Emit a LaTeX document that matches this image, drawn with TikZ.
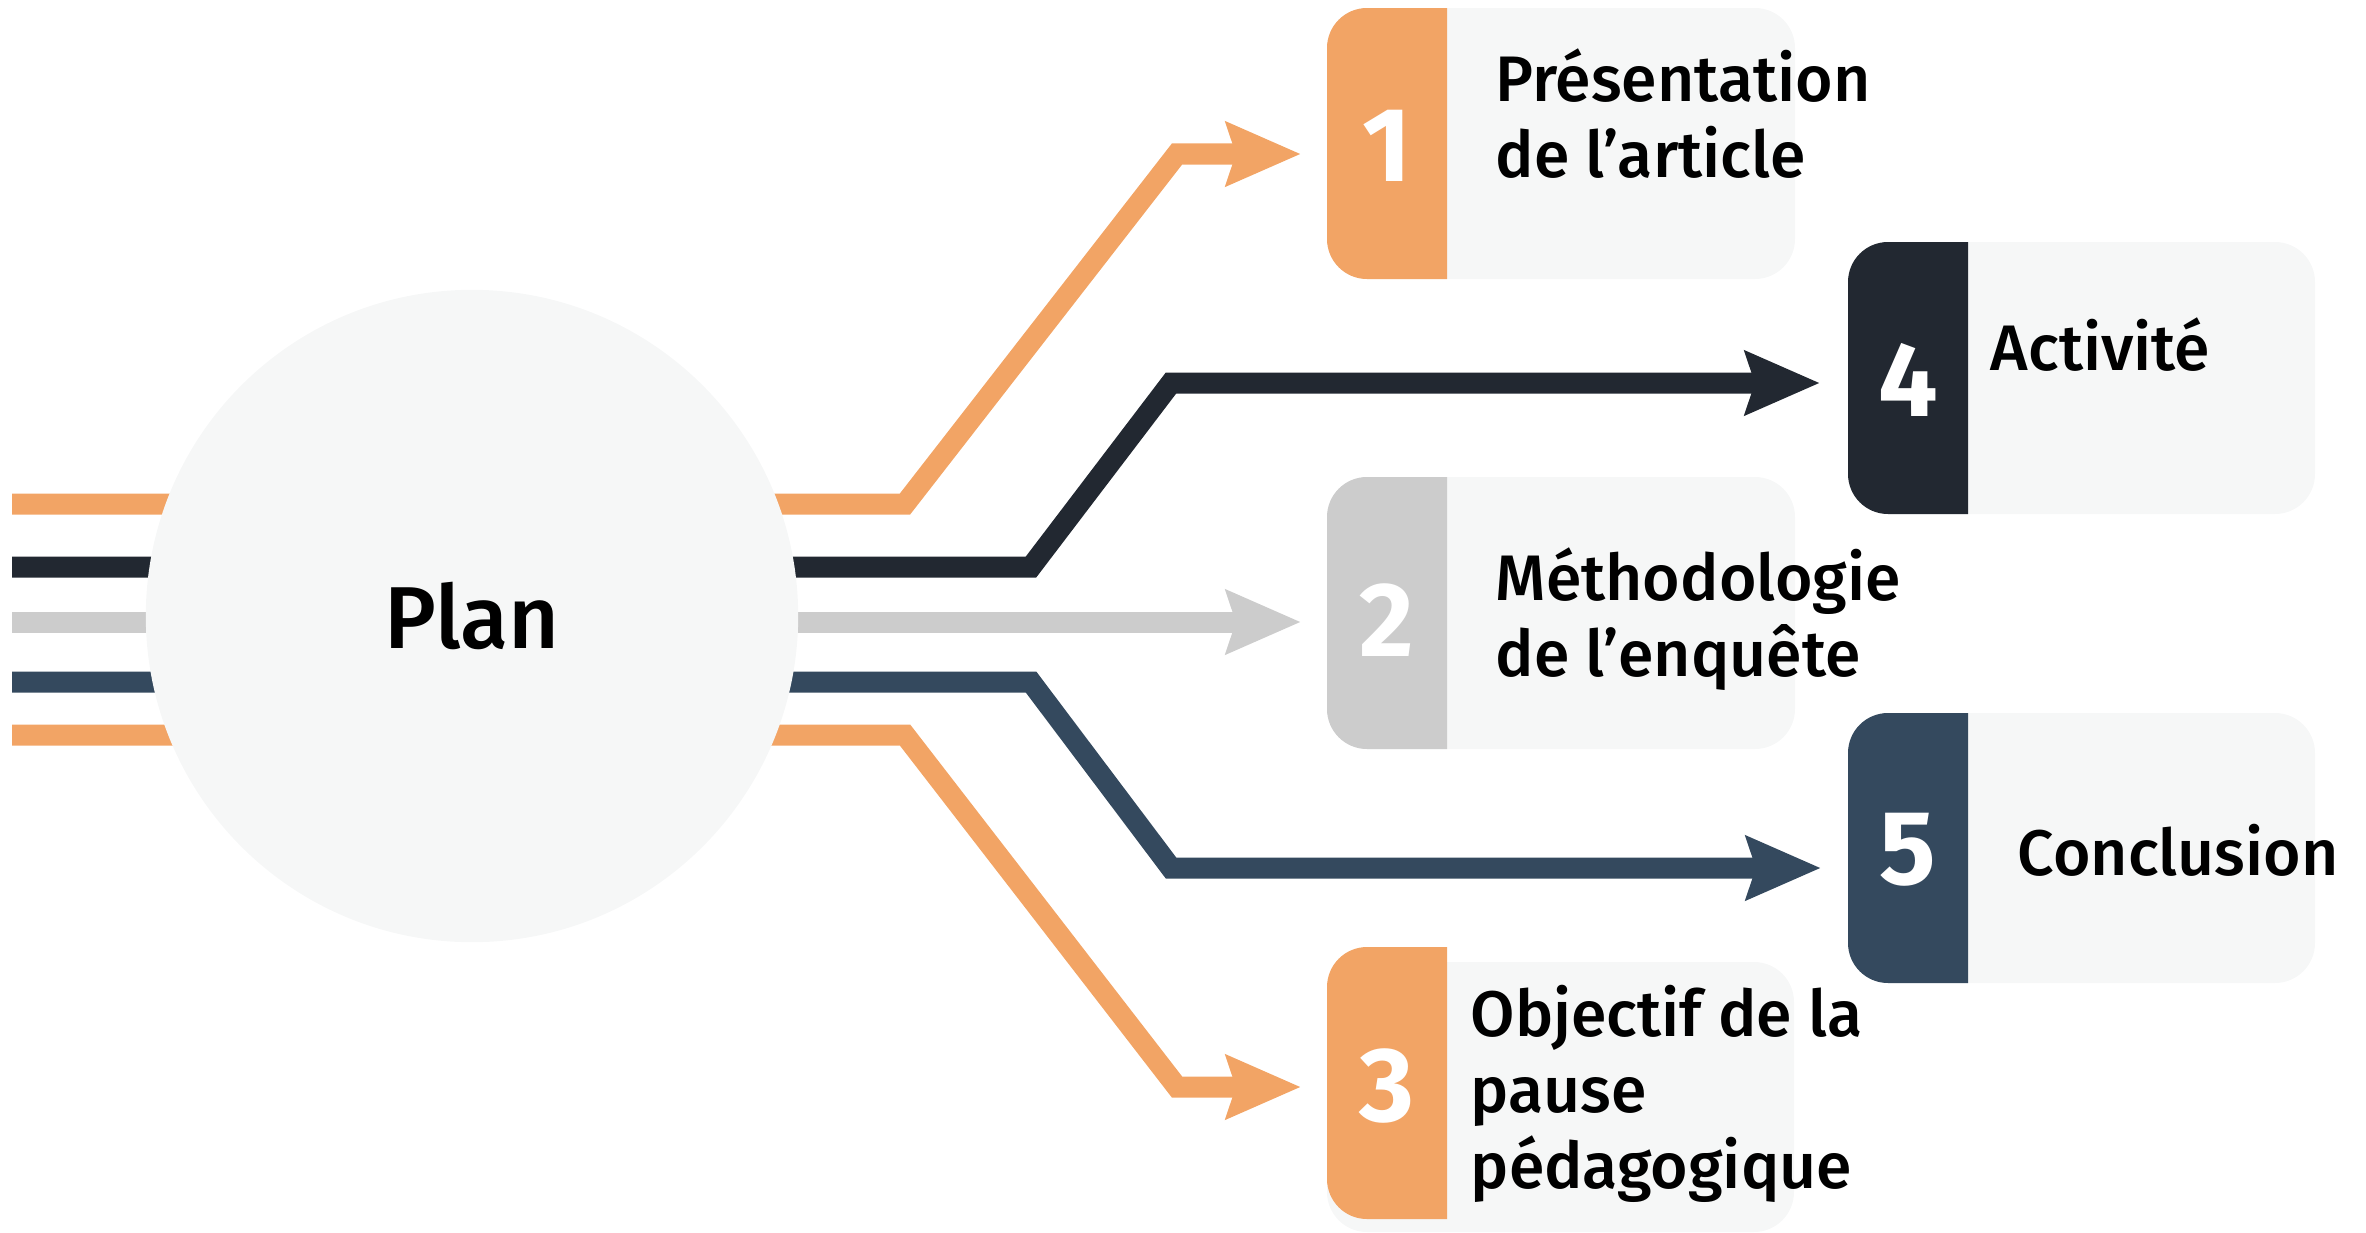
\documentclass[tikz,border=0pt]{standalone}
\usepackage{fontspec}
\setmainfont{Fira Sans}[UprightFont=* Medium, BoldFont=* Bold]
\usetikzlibrary{arrows.meta}
\definecolor{peche}{HTML}{F2A465}
\definecolor{ardoise}{HTML}{222831}
\definecolor{gris}{HTML}{CCCCCC}
\definecolor{marine}{HTML}{34495E}
\definecolor{fond}{HTML}{F6F7F7}

\begin{document}
\begin{tikzpicture}[
    x=0.01cm, y=-0.01cm,
    fleche/.style={line width=0.21cm,
                   -{Stealth[length=0.74cm, width=0.62cm, inset=0.09cm]}},
    carte/.style={fill=fond, rounded corners=0.4cm},
    onglet/.style={fill=#1, rounded corners=0.4cm},
    chiffre/.style={inner sep=0, text=white,
                    font=\fontsize{30}{30}\bfseries\selectfont},
    titre/.style={inner sep=0, anchor=base west, align=left,
                  font=\fontsize{18.3}{21.6}\selectfont}
  ]
  \useasboundingbox (0,0) rectangle (2366,1233);

  % points de depart et d'arrivee des fleches
  \foreach \n/\y in {o1/504, d/567, g/622, b/682, o2/735}
    \coordinate (s-\n) at (12,\y);
  \coordinate (fin1) at (1301,154);
  \coordinate (fin2) at (1301,622);
  \coordinate (fin3) at (1301,1087);
  \coordinate (fin4) at (1820,383);
  \coordinate (fin5) at (1821,868);

  \draw[fleche, peche]   (s-o1) -- (905,504) -- (1177,154) -- (fin1);
  \draw[fleche, ardoise] (s-d) -- (1031,567) -- (1171,383) -- (fin4);
  \draw[fleche, gris]    (s-g) -- (fin2);
  \draw[fleche, marine]  (s-b) -- (1031,682) -- (1171,868) -- (fin5);
  \draw[fleche, peche]   (s-o2) -- (905,735) -- (1177,1087) -- (fin3);

  \node[circle, fill=fond, minimum size=6.52cm, inner sep=0,
        font=\fontsize{25}{25}\selectfont] (plan) at (472,616) {Plan};

  % cartes (le texte est cale sur sa derniere ligne)
  \fill[carte] (1327,8) rectangle (1795,279);
  \fill[onglet=peche] (1447,8) -- (1327,8) -- (1327,279) -- (1447,279);
  \node[chiffre] (n1) at (1387,146) {1};
  \node[titre] (t1) at (1495,177) {Présentation\\de l’article};

  \fill[carte] (1848,242) rectangle (2315,514);
  \fill[onglet=ardoise] (1968,242) -- (1848,242) -- (1848,514) -- (1968,514);
  \node[chiffre] (n4) at (1908,380) {4};
  \node[titre] (t4) at (1990,370) {Activité};

  \fill[carte] (1327,477) rectangle (1795,749);
  \fill[onglet=gris] (1447,477) -- (1327,477) -- (1327,749) -- (1447,749);
  \node[chiffre] (n2) at (1387,620) {2};
  \node[titre] (t2) at (1495,676) {Méthodologie\\de l’enquête};

  \fill[carte] (1848,713) rectangle (2315,983);
  \fill[onglet=marine] (1968,713) -- (1848,713) -- (1848,983) -- (1968,983);
  \node[chiffre] (n5) at (1908,850) {5};
  \node[titre] (t5) at (2017,875) {Conclusion};

  \fill[carte] (1327,962) rectangle (1794,1232);
  \fill[onglet=peche] (1447,947) -- (1327,947) -- (1327,1219) -- (1447,1219);
  \node[chiffre] (n3) at (1387,1086) {3};
  \node[titre] (t3) at (1470,1188) {Objectif de la\\pause\\pédagogique};
\end{tikzpicture}
\end{document}
